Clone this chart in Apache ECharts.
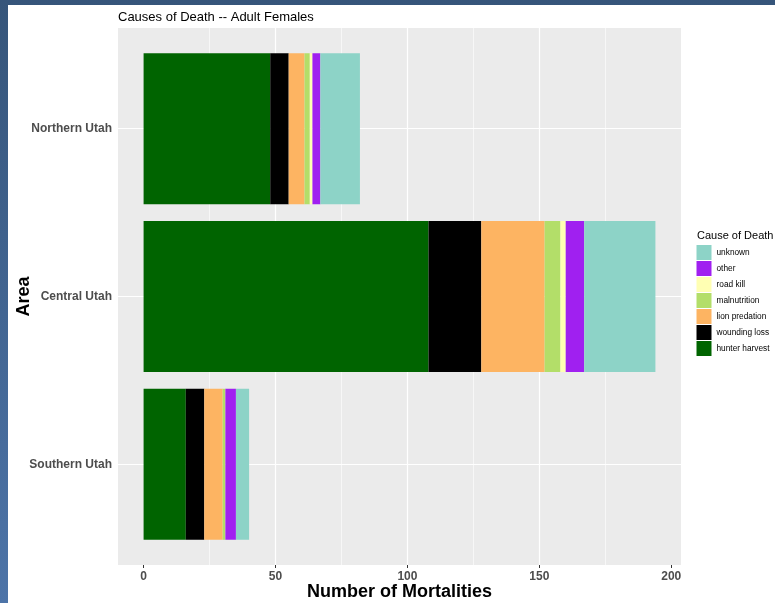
<!DOCTYPE html>
<html>
<head>
<meta charset="utf-8">
<script src="https://cdn.jsdelivr.net/npm/echarts@6/dist/echarts.min.js"></script>
<style>
  html, body { margin: 0; padding: 0; width: 775px; height: 603px; overflow: hidden;
    background: linear-gradient(to bottom, #36557a, #4d74a8); }
  #chart { position: absolute; left: 8px; top: 5px; width: 767px; height: 598px; background: #ffffff; }
</style>
</head>
<body>
<div id="chart"></div>
<script>
// ---- data ----
const areas = ['Northern Utah', 'Central Utah', 'Southern Utah'];
const hunterHarvest = [48, 108, 16];
const woundingLoss  = [7, 20, 7];
const lionPredation = [6, 24, 7];
const malnutrition  = [2, 6, 1];
const roadKill      = [1, 2, 0];
const other         = [3, 7, 4];
const unknown       = [15, 27, 5];
const causeNames = ['hunter harvest', 'wounding loss', 'lion predation', 'malnutrition', 'road kill', 'other', 'unknown'];
const causeValues = [hunterHarvest, woundingLoss, lionPredation, malnutrition, roadKill, other, unknown];
const causeColors = ['#006400', '#000000', '#FDB462', '#B3DE69', '#FFFFB3', '#A020F0', '#8DD3C7'];
const majorTicks = [0, 50, 100, 150, 200];
const minorTicks = [25, 75, 125, 175];
const xMin = -9.7, xMax = 203.7;

const FONT = 'Liberation Sans, Arial, Helvetica, sans-serif';
const chart = echarts.init(document.getElementById('chart'), null, { renderer: 'canvas' });

const barSeries = causeNames.map((name, i) => ({
  name: name,
  type: 'bar',
  stack: 'total',
  xAxisIndex: 1,
  yAxisIndex: 1,
  data: causeValues[i],
  barCategoryGap: '10%',
  itemStyle: { color: causeColors[i] },
  z: 10,
  silent: true
}));

const option = {
  animation: false,
  textStyle: { fontFamily: FONT },
  title: [
    { text: 'Causes of Death -- Adult Females', left: 110, top: 6, padding: 0,
      textStyle: { fontSize: 13, fontWeight: 'normal', color: '#000', fontFamily: FONT } },
    { text: 'Cause of Death', left: 689, top: 225, padding: 0,
      textStyle: { fontSize: 11, fontWeight: 'normal', color: '#000', fontFamily: FONT } }
  ],
  legend: {
    orient: 'vertical',
    left: 688.5, top: 240, padding: 0,
    itemWidth: 15, itemHeight: 15, itemGap: 1,
    icon: 'rect',
    selectedMode: false,
    data: causeNames.slice().reverse(),
    textStyle: { fontSize: 8.3, color: '#000', fontFamily: FONT }
  },
  grid: [
    { left: 110, right: 94, top: 23, bottom: 38, show: true, backgroundColor: '#EBEBEB', borderWidth: 0,
      containLabel: false, outerBoundsMode: 'none' },
    { left: 110, right: 94, top: 39.8, bottom: 54.8, show: false,
      containLabel: false, outerBoundsMode: 'none' }
  ],
  xAxis: [
    { type: 'value', gridIndex: 0, min: xMin, max: xMax, z: 0,
      axisLine: { show: false },
      axisTick: { show: true, customValues: majorTicks, length: 3, lineStyle: { color: '#333', width: 1 } },
      axisLabel: { customValues: majorTicks, color: '#4D4D4D', fontWeight: 'bold', fontSize: 12, margin: 6, fontFamily: FONT },
      splitLine: { show: true, showMinLine: false, showMaxLine: false, lineStyle: { color: '#ffffff', width: 1.2 } },
      name: 'Number of Mortalities', nameLocation: 'middle', nameGap: 18.5, nameMoveOverlap: false,
      nameTextStyle: { fontSize: 18, fontWeight: 'bold', color: '#000', fontFamily: FONT } },
    { type: 'value', gridIndex: 1, min: xMin, max: xMax, show: false,
      splitLine: { show: false } }
  ],
  yAxis: [
    { type: 'value', gridIndex: 0, min: 0, max: 1, show: false, splitLine: { show: false } },
    { type: 'category', gridIndex: 1, data: areas, inverse: true, z: 0,
      axisLine: { show: false },
      axisTick: { show: true, alignWithLabel: true, length: 4, lineStyle: { color: '#333', width: 1 } },
      axisLabel: { color: '#4D4D4D', fontWeight: 'bold', fontSize: 12, margin: 6, fontFamily: FONT },
      splitLine: { show: false },
      name: 'Area', nameLocation: 'middle', nameGap: 85, nameRotate: 90, nameMoveOverlap: false,
      nameTextStyle: { fontSize: 18, fontWeight: 'bold', color: '#000', fontFamily: FONT } }
  ],
  series: [
    { name: '_minor', type: 'line', xAxisIndex: 0, yAxisIndex: 0, data: [], z: 1, silent: true,
      markLine: { z: 1, silent: true, symbol: ['none', 'none'], label: { show: false },
        lineStyle: { color: '#ffffff', width: 0.6, type: 'solid' },
        emphasis: { disabled: true },
        data: minorTicks.map(v => ({ xAxis: v })) } },
    { name: '_hgrid', type: 'line', xAxisIndex: 1, yAxisIndex: 1, data: [], z: 1, silent: true,
      markLine: { z: 1, silent: true, symbol: ['none', 'none'], label: { show: false },
        lineStyle: { color: '#ffffff', width: 1.2, type: 'solid' },
        emphasis: { disabled: true },
        data: areas.map(a => ({ yAxis: a })) } }
  ].concat(barSeries)
};
chart.setOption(option);
</script>
</body>
</html>
